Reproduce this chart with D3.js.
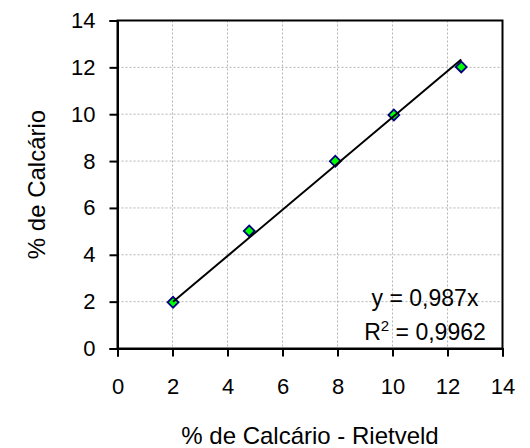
<!DOCTYPE html>
<html>
<head>
<meta charset="utf-8">
<script src="https://cdn.jsdelivr.net/npm/d3@7"></script>
<style>
  html, body { margin: 0; padding: 0; background: #fff; }
  svg { display: block; font-family: "Liberation Sans", Arial, sans-serif; }
</style>
</head>
<body>
<svg id="chart" width="530" height="448"></svg>
<script>
// Calcite content: Rietveld reference (x) vs. measured (y)
const rietveld = [2.02, 4.79, 7.92, 10.05, 12.5];
const calcario = [1.97, 5.02, 7.99, 9.97, 12.02];
const xTicks = [0, 2, 4, 6, 8, 10, 12, 14];
const yTicks = [0, 2, 4, 6, 8, 10, 12, 14];
const slope = 0.987;
const equationText = "y = 0,987x";
const r2Text = "= 0,9962";
const xTitle = "% de Calcário - Rietveld";
const yTitle = "% de Calcário";

const svg = d3.select("#chart");
const plot = { left: 117.5, right: 502.5, top: 20.5, bottom: 348.5 };

const x = d3.scaleLinear().domain([0, 14]).range([plot.left, plot.right]);
const y = d3.scaleLinear().domain([0, 14]).range([plot.bottom, plot.top]);

// dotted grid
const grid = svg.append("g");
grid.selectAll("line.gx").data(xTicks.filter(t => t > 0 && t < 14)).join("line")
  .attr("x1", d => x(d)).attr("x2", d => x(d))
  .attr("y1", plot.top).attr("y2", plot.bottom)
  .attr("stroke", "#b4b4b4").attr("stroke-width", 1).attr("stroke-dasharray", "2,2");
grid.selectAll("line.gy").data(yTicks.filter(t => t > 0 && t < 14)).join("line")
  .attr("x1", plot.left).attr("x2", plot.right)
  .attr("y1", d => y(d)).attr("y2", d => y(d))
  .attr("stroke", "#b4b4b4").attr("stroke-width", 1).attr("stroke-dasharray", "2,2");

// markers
const pts = rietveld.map((v, i) => ({ x: v, y: calcario[i] }));
const diamond = d3.symbol().type(d3.symbolSquare).size(60);
svg.append("g").selectAll("path").data(pts).join("path")
  .attr("d", diamond)
  .attr("transform", d => `translate(${x(d.x)},${y(d.y)}) rotate(45)`)
  .attr("fill", "#00ff00").attr("stroke", "#000080").attr("stroke-width", 1.8);

// linear trend through the origin, over the data range
const [xmin, xmax] = d3.extent(rietveld);
svg.append("line")
  .attr("x1", x(xmin)).attr("y1", y(slope * xmin))
  .attr("x2", x(xmax)).attr("y2", y(slope * xmax))
  .attr("stroke", "#000").attr("stroke-width", 2);

// frame
svg.append("rect")
  .attr("x", plot.left).attr("y", plot.top)
  .attr("width", plot.right - plot.left).attr("height", plot.bottom - plot.top)
  .attr("fill", "none").attr("stroke", "#000").attr("stroke-width", 2);

// axes
const fontSize = 22;
const xAxis = svg.append("g").attr("transform", `translate(0,${plot.bottom})`)
  .call(d3.axisBottom(x).tickValues(xTicks).tickSize(8).tickPadding(22).tickFormat(d3.format("d")));
const yAxis = svg.append("g").attr("transform", `translate(${plot.left},0)`)
  .call(d3.axisLeft(y).tickValues(yTicks).tickSize(8).tickPadding(14).tickFormat(d3.format("d")));
[xAxis, yAxis].forEach(a => {
  a.select(".domain").attr("stroke-width", 2);
  a.selectAll(".tick line").attr("stroke-width", 2);
  a.selectAll(".tick text").attr("font-size", fontSize).attr("fill", "#000")
    .attr("font-family", "Liberation Sans, Arial, sans-serif");
});

// axis titles
svg.append("text")
  .attr("x", (plot.left + plot.right) / 2).attr("y", 444)
  .attr("text-anchor", "middle").attr("font-size", 24).text(xTitle);
svg.append("text")
  .attr("transform", `translate(45,${(plot.top + plot.bottom) / 2}) rotate(-90)`)
  .attr("text-anchor", "middle").attr("font-size", 24).text(yTitle);

// regression label
const eqX = 425;
svg.append("text").attr("x", eqX).attr("y", 306)
  .attr("text-anchor", "middle").attr("font-size", 23).text(equationText);
const r2 = svg.append("text").attr("x", eqX).attr("y", 340)
  .attr("text-anchor", "middle").attr("font-size", 23);
r2.append("tspan").text("R");
r2.append("tspan").attr("dy", -9).attr("font-size", 15).text("2");
r2.append("tspan").attr("dy", 9).text(" " + r2Text);
</script>
</body>
</html>
